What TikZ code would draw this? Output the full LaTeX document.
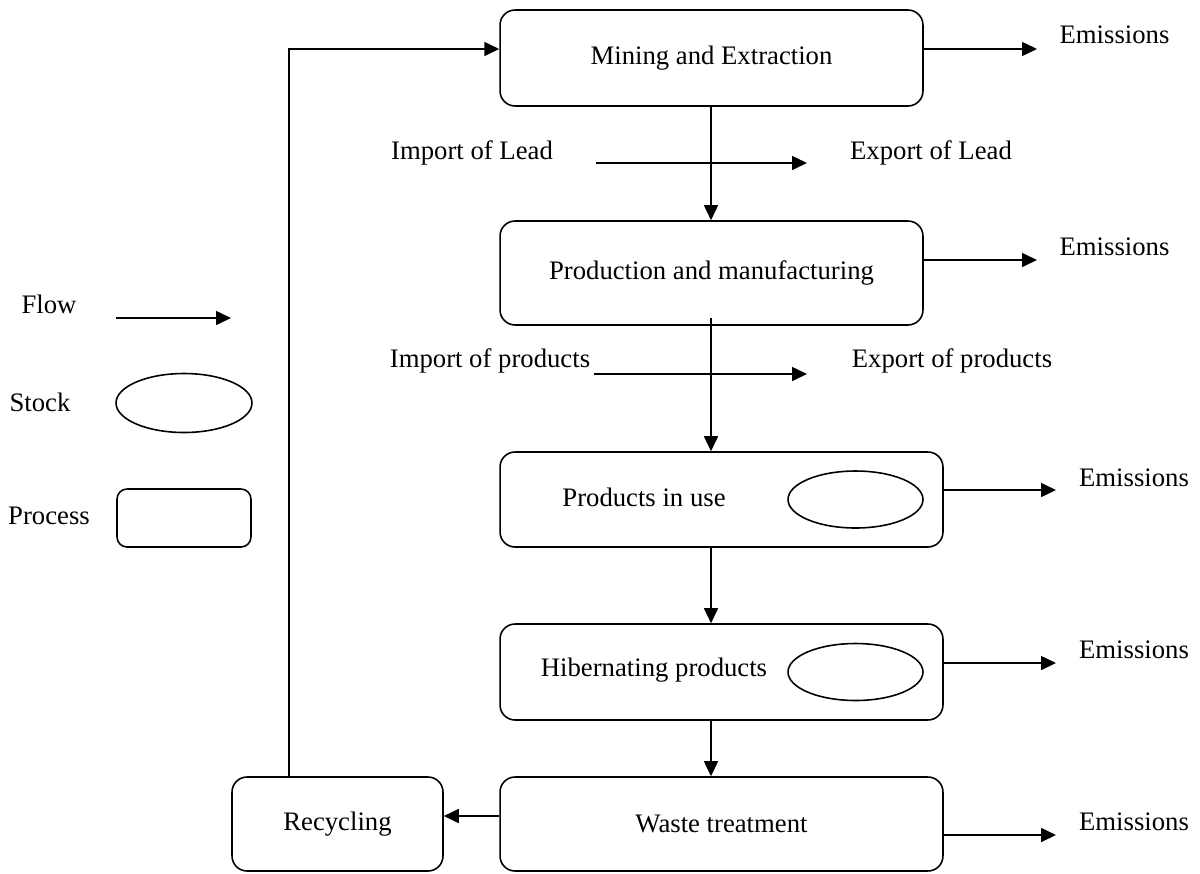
\documentclass[tikz,border=0pt]{standalone}
\usepackage{fontspec}
\setmainfont{Liberation Serif}
\usetikzlibrary{arrows.meta,shapes.geometric,positioning}
\tikzset{
  proc/.style={rectangle, draw, rounded corners=3mm, line width=0.9pt, font=\fontsize{15.2}{17}\selectfont},
  stock/.style={ellipse, draw, line width=0.9pt, inner sep=0pt, minimum width=2.7cm, minimum height=1.14cm},
  lbl/.style={font=\fontsize{15.2}{17}\selectfont, inner sep=1pt},
  arr/.style={-{Triangle[length=3mm,width=2.8mm]}, line width=0.9pt}
}

\begin{document}
\begin{tikzpicture}[x=0.02cm, y=-0.02cm]
\useasboundingbox (0,0) rectangle (1200,873);
% processes
\node[proc, minimum width=8.46cm, minimum height=1.92cm] (mine) at (711.5,58) {Mining and Extraction};
\node[proc, minimum width=8.46cm, minimum height=2.08cm] (prod) at (711.5,273) {Production and manufacturing};
\node[proc, minimum width=8.86cm, minimum height=1.9cm] (use) at (721.5,499.5) {};
\node[proc, minimum width=8.86cm, minimum height=1.92cm] (hib) at (721.5,672) {};
\node[proc, minimum width=8.86cm, minimum height=1.88cm] (waste) at (721.5,824) {Waste treatment};
\node[proc, minimum width=4.22cm, minimum height=1.88cm] (recyc) at (337.5,824) {Recycling};
% stocks
\node[lbl] (usetxt) at (644,497) {Products in use};
\node[stock] (usestock) at (855.5,499.5) {};
\node[lbl] (hibtxt) at (654,670) {Hibernating products};
\node[stock] (hibstock) at (855.5,672) {};
% main chain
\coordinate (spine) at (711,0);
\draw[arr] (mine.south -| spine) -- (prod.north -| spine);
\draw[arr] ([yshift=0.16cm]prod.south -| spine) -- (use.north -| spine);
\draw[arr] (use.south -| spine) -- (hib.north -| spine);
\draw[arr] (hib.south -| spine) -- (waste.north -| spine);
\draw[arr] ([yshift=0.16cm]waste.west) -- ([yshift=0.16cm]recyc.east);
\draw[arr] ([xshift=-0.97cm]recyc.north) |- ([yshift=0.18cm]mine.west);
% trade
\node[lbl] (implead) at (472,153) {Import of Lead};
\node[lbl] (explead) at (931,153) {Export of Lead};
\coordinate (il) at (596,163);
\coordinate (el) at (807,163);
\draw[arr] (il) -- (el);
\node[lbl] (impprod) at (490,361) {Import of products};
\node[lbl] (expprod) at (952,361) {Export of products};
\coordinate (ip) at (594,374);
\coordinate (ep) at (807,374);
\draw[arr] (ip) -- (ep);
% emissions
\node[lbl] (em1) at (1114.5,35) {Emissions};
\node[lbl] (em2) at (1114.5,247) {Emissions};
\node[lbl] (em3) at (1134,478) {Emissions};
\node[lbl] (em4) at (1134,650) {Emissions};
\node[lbl] (em5) at (1134,822) {Emissions};
\coordinate (e1) at (1037,49);
\coordinate (e2) at (1037,260);
\coordinate (e3) at (1056,490);
\coordinate (e4) at (1056,663);
\coordinate (e5) at (1056,835);
\draw[arr] (mine.east |- e1) -- (e1);
\draw[arr] (prod.east |- e2) -- (e2);
\draw[arr] (use.east |- e3) -- (e3);
\draw[arr] (hib.east |- e4) -- (e4);
\draw[arr] (waste.east |- e5) -- (e5);
% legend
\node[lbl] (flowtxt) at (49,304) {Flow};
\coordinate (fa) at (116,318);
\coordinate (fb) at (231,318);
\draw[arr] (fa) -- (fb);
\node[lbl] (stocktxt) at (40,402) {Stock};
\node[stock, minimum width=2.72cm, minimum height=1.18cm] (stockkey) at (184,403) {};
\node[lbl] (proctxt) at (49,516) {Process};
\node[proc, rounded corners=2mm, minimum width=2.68cm, minimum height=1.16cm] (prockey) at (184,518) {};
\end{tikzpicture}
\end{document}
